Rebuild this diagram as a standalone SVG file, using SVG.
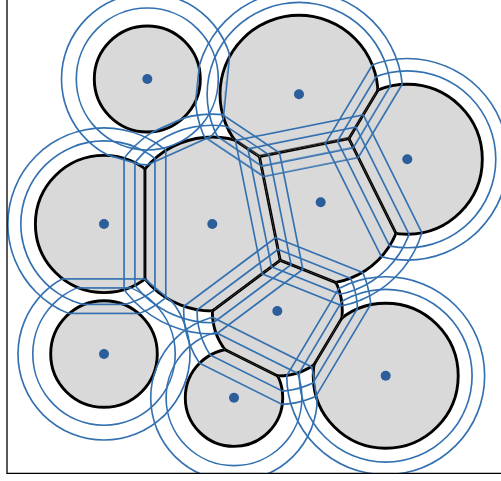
<svg xmlns="http://www.w3.org/2000/svg" width="501" height="481" viewBox="0 0 501 481">
<style>
.cell{fill:#d9d9d9}
.edge{fill:none;stroke:#000;stroke-width:2.9}
.arc{fill:none;stroke:#000;stroke-width:2.9}
.blue{fill:none;stroke:#3270b0;stroke-width:3.3}
.dot{fill:#2b5e9a}
.spine{fill:none;stroke:#000;stroke-width:1.3}
</style>
<defs>
<clipPath id="ax"><rect x="7" y="-20" width="600" height="493.3"/></clipPath>
<g id="kA0" transform="translate(147.3 79)"><rect transform="rotate(5.76)" x="64.98" y="-700" width="1400" height="1400"/><rect transform="rotate(106.63)" x="69.39" y="-700" width="1400" height="1400"/><rect transform="rotate(65.85)" x="64.47" y="-700" width="1400" height="1400"/></g>
<g id="kA1" transform="translate(147.3 79)"><rect transform="rotate(5.76)" x="72.69" y="-700" width="1400" height="1400"/><rect transform="rotate(106.63)" x="77.15" y="-700" width="1400" height="1400"/><rect transform="rotate(65.85)" x="71.86" y="-700" width="1400" height="1400"/></g>
<g id="kA2" transform="translate(147.3 79)"><rect transform="rotate(5.76)" x="80.39" y="-700" width="1400" height="1400"/><rect transform="rotate(106.63)" x="84.92" y="-700" width="1400" height="1400"/><rect transform="rotate(65.85)" x="79.26" y="-700" width="1400" height="1400"/></g>

<g id="kB0" transform="translate(299 94.3)"><rect transform="rotate(185.76)" x="87.49" y="-700" width="1400" height="1400"/><rect transform="rotate(30.97)" x="65.59" y="-700" width="1400" height="1400"/><rect transform="rotate(123.76)" x="73.75" y="-700" width="1400" height="1400"/><rect transform="rotate(78.64)" x="53.26" y="-700" width="1400" height="1400"/></g>
<g id="kB1" transform="translate(299 94.3)"><rect transform="rotate(185.76)" x="95.20" y="-700" width="1400" height="1400"/><rect transform="rotate(30.97)" x="74.89" y="-700" width="1400" height="1400"/><rect transform="rotate(123.76)" x="81.28" y="-700" width="1400" height="1400"/><rect transform="rotate(78.64)" x="63.93" y="-700" width="1400" height="1400"/></g>
<g id="kB2" transform="translate(299 94.3)"><rect transform="rotate(185.76)" x="102.90" y="-700" width="1400" height="1400"/><rect transform="rotate(30.97)" x="84.19" y="-700" width="1400" height="1400"/><rect transform="rotate(123.76)" x="88.81" y="-700" width="1400" height="1400"/><rect transform="rotate(78.64)" x="74.59" y="-700" width="1400" height="1400"/></g>

<g id="kC0" transform="translate(407.3 159.3)"><rect transform="rotate(210.97)" x="60.72" y="-700" width="1400" height="1400"/><rect transform="rotate(153.59)" x="43.09" y="-700" width="1400" height="1400"/></g>
<g id="kC1" transform="translate(407.3 159.3)"><rect transform="rotate(210.97)" x="70.02" y="-700" width="1400" height="1400"/><rect transform="rotate(153.59)" x="55.24" y="-700" width="1400" height="1400"/></g>
<g id="kC2" transform="translate(407.3 159.3)"><rect transform="rotate(210.97)" x="79.32" y="-700" width="1400" height="1400"/><rect transform="rotate(153.59)" x="67.39" y="-700" width="1400" height="1400"/></g>

<g id="kD0" transform="translate(104 224)"><rect transform="rotate(-73.37)" x="81.94" y="-700" width="1400" height="1400"/><rect x="40.93" y="-700" width="1400" height="1400"/><rect transform="rotate(90)" x="72.17" y="-700" width="1400" height="1400"/></g>
<g id="kD1" transform="translate(104 224)"><rect transform="rotate(-73.37)" x="89.70" y="-700" width="1400" height="1400"/><rect x="51.78" y="-700" width="1400" height="1400"/><rect transform="rotate(90)" x="81.21" y="-700" width="1400" height="1400"/></g>
<g id="kD2" transform="translate(104 224)"><rect transform="rotate(-73.37)" x="97.47" y="-700" width="1400" height="1400"/><rect x="62.63" y="-700" width="1400" height="1400"/><rect transform="rotate(90)" x="90.25" y="-700" width="1400" height="1400"/></g>

<g id="kE0" transform="translate(212.3 224)"><rect transform="rotate(245.85)" x="94.43" y="-700" width="1400" height="1400"/><rect transform="rotate(-56.24)" x="82.26" y="-700" width="1400" height="1400"/><rect transform="rotate(180)" x="67.37" y="-700" width="1400" height="1400"/><rect transform="rotate(-11.32)" x="59.47" y="-700" width="1400" height="1400"/><rect transform="rotate(129.8)" x="98.57" y="-700" width="1400" height="1400"/><rect transform="rotate(53.23)" x="69.70" y="-700" width="1400" height="1400"/><rect transform="rotate(82.88)" x="102.37" y="-700" width="1400" height="1400"/></g>
<g id="kE1" transform="translate(212.3 224)"><rect transform="rotate(245.85)" x="101.82" y="-700" width="1400" height="1400"/><rect transform="rotate(-56.24)" x="89.79" y="-700" width="1400" height="1400"/><rect transform="rotate(180)" x="78.22" y="-700" width="1400" height="1400"/><rect transform="rotate(-11.32)" x="70.10" y="-700" width="1400" height="1400"/><rect transform="rotate(129.8)" x="105.51" y="-700" width="1400" height="1400"/><rect transform="rotate(53.23)" x="80.52" y="-700" width="1400" height="1400"/><rect transform="rotate(82.88)" x="109.08" y="-700" width="1400" height="1400"/></g>
<g id="kE2" transform="translate(212.3 224)"><rect transform="rotate(245.85)" x="109.22" y="-700" width="1400" height="1400"/><rect transform="rotate(-56.24)" x="97.32" y="-700" width="1400" height="1400"/><rect transform="rotate(180)" x="89.07" y="-700" width="1400" height="1400"/><rect transform="rotate(-11.32)" x="80.73" y="-700" width="1400" height="1400"/><rect transform="rotate(129.8)" x="112.46" y="-700" width="1400" height="1400"/><rect transform="rotate(53.23)" x="91.34" y="-700" width="1400" height="1400"/><rect transform="rotate(82.88)" x="115.79" y="-700" width="1400" height="1400"/></g>

<g id="kF0" transform="translate(320.7 202.3)"><rect transform="rotate(258.64)" x="56.90" y="-700" width="1400" height="1400"/><rect transform="rotate(-26.41)" x="53.60" y="-700" width="1400" height="1400"/><rect transform="rotate(168.68)" x="51.08" y="-700" width="1400" height="1400"/><rect transform="rotate(111.77)" x="68.85" y="-700" width="1400" height="1400"/><rect transform="rotate(69.45)" x="96.33" y="-700" width="1400" height="1400"/></g>
<g id="kF1" transform="translate(320.7 202.3)"><rect transform="rotate(258.64)" x="67.57" y="-700" width="1400" height="1400"/><rect transform="rotate(-26.41)" x="65.75" y="-700" width="1400" height="1400"/><rect transform="rotate(168.68)" x="61.71" y="-700" width="1400" height="1400"/><rect transform="rotate(111.77)" x="78.89" y="-700" width="1400" height="1400"/><rect transform="rotate(69.45)" x="102.67" y="-700" width="1400" height="1400"/></g>
<g id="kF2" transform="translate(320.7 202.3)"><rect transform="rotate(258.64)" x="78.23" y="-700" width="1400" height="1400"/><rect transform="rotate(-26.41)" x="77.90" y="-700" width="1400" height="1400"/><rect transform="rotate(168.68)" x="72.34" y="-700" width="1400" height="1400"/><rect transform="rotate(111.77)" x="88.93" y="-700" width="1400" height="1400"/><rect transform="rotate(69.45)" x="109.02" y="-700" width="1400" height="1400"/></g>

<g id="kG0" transform="translate(104 354)"><rect transform="rotate(-90)" x="57.83" y="-700" width="1400" height="1400"/><rect transform="rotate(-50.2)" x="70.63" y="-700" width="1400" height="1400"/><rect transform="rotate(18.58)" x="70.28" y="-700" width="1400" height="1400"/></g>
<g id="kG1" transform="translate(104 354)"><rect transform="rotate(-90)" x="66.87" y="-700" width="1400" height="1400"/><rect transform="rotate(-50.2)" x="77.57" y="-700" width="1400" height="1400"/><rect transform="rotate(18.58)" x="78.85" y="-700" width="1400" height="1400"/></g>
<g id="kG2" transform="translate(104 354)"><rect transform="rotate(-90)" x="75.91" y="-700" width="1400" height="1400"/><rect transform="rotate(-50.2)" x="84.52" y="-700" width="1400" height="1400"/><rect transform="rotate(18.58)" x="87.41" y="-700" width="1400" height="1400"/></g>

<g id="kH0" transform="translate(277.3 311)"><rect transform="rotate(233.23)" x="38.90" y="-700" width="1400" height="1400"/><rect transform="rotate(-68.23)" x="48.20" y="-700" width="1400" height="1400"/><rect transform="rotate(116.54)" x="58.02" y="-700" width="1400" height="1400"/><rect transform="rotate(30.83)" x="59.04" y="-700" width="1400" height="1400"/></g>
<g id="kH1" transform="translate(277.3 311)"><rect transform="rotate(233.23)" x="49.72" y="-700" width="1400" height="1400"/><rect transform="rotate(-68.23)" x="58.24" y="-700" width="1400" height="1400"/><rect transform="rotate(116.54)" x="70.14" y="-700" width="1400" height="1400"/><rect transform="rotate(30.83)" x="68.35" y="-700" width="1400" height="1400"/></g>
<g id="kH2" transform="translate(277.3 311)"><rect transform="rotate(233.23)" x="60.54" y="-700" width="1400" height="1400"/><rect transform="rotate(-68.23)" x="68.28" y="-700" width="1400" height="1400"/><rect transform="rotate(116.54)" x="82.27" y="-700" width="1400" height="1400"/><rect transform="rotate(30.83)" x="77.66" y="-700" width="1400" height="1400"/></g>

<g id="kI0" transform="translate(234 397.7)"><rect transform="rotate(262.88)" x="72.68" y="-700" width="1400" height="1400"/><rect transform="rotate(198.58)" x="66.87" y="-700" width="1400" height="1400"/><rect transform="rotate(-63.46)" x="38.89" y="-700" width="1400" height="1400"/><rect transform="rotate(-8.25)" x="67.24" y="-700" width="1400" height="1400"/></g>
<g id="kI1" transform="translate(234 397.7)"><rect transform="rotate(262.88)" x="79.39" y="-700" width="1400" height="1400"/><rect transform="rotate(198.58)" x="75.44" y="-700" width="1400" height="1400"/><rect transform="rotate(-63.46)" x="51.01" y="-700" width="1400" height="1400"/><rect transform="rotate(-8.25)" x="74.91" y="-700" width="1400" height="1400"/></g>
<g id="kI2" transform="translate(234 397.7)"><rect transform="rotate(262.88)" x="86.10" y="-700" width="1400" height="1400"/><rect transform="rotate(198.58)" x="84.00" y="-700" width="1400" height="1400"/><rect transform="rotate(-63.46)" x="63.14" y="-700" width="1400" height="1400"/><rect transform="rotate(-8.25)" x="82.57" y="-700" width="1400" height="1400"/></g>

<g id="kJ0" transform="translate(385.7 375.7)"><rect transform="rotate(249.45)" x="88.87" y="-700" width="1400" height="1400"/><rect transform="rotate(210.83)" x="67.20" y="-700" width="1400" height="1400"/><rect transform="rotate(171.75)" x="86.05" y="-700" width="1400" height="1400"/></g>
<g id="kJ1" transform="translate(385.7 375.7)"><rect transform="rotate(249.45)" x="95.21" y="-700" width="1400" height="1400"/><rect transform="rotate(210.83)" x="76.51" y="-700" width="1400" height="1400"/><rect transform="rotate(171.75)" x="93.72" y="-700" width="1400" height="1400"/></g>
<g id="kJ2" transform="translate(385.7 375.7)"><rect transform="rotate(249.45)" x="101.56" y="-700" width="1400" height="1400"/><rect transform="rotate(210.83)" x="85.82" y="-700" width="1400" height="1400"/><rect transform="rotate(171.75)" x="101.38" y="-700" width="1400" height="1400"/></g>

<mask id="m0A" maskUnits="userSpaceOnUse" x="-100" y="-100" width="800" height="800"><circle cx="147.3" cy="79" r="53" fill="#fff"/><use href="#kA0" fill="#000"/></mask>
<mask id="m1A" maskUnits="userSpaceOnUse" x="-100" y="-100" width="800" height="800"><circle cx="147.3" cy="79" r="71.83" fill="#fff"/><use href="#kA1" fill="#000"/></mask>
<mask id="m2A" maskUnits="userSpaceOnUse" x="-100" y="-100" width="800" height="800"><circle cx="147.3" cy="79" r="86.65" fill="#fff"/><use href="#kA2" fill="#000"/></mask>
<mask id="pA" maskUnits="userSpaceOnUse" x="-100" y="-100" width="800" height="800"><rect x="-100" y="-100" width="800" height="800" fill="#fff"/><use href="#kA0" fill="#000"/></mask>

<mask id="m0B" maskUnits="userSpaceOnUse" x="-100" y="-100" width="800" height="800"><circle cx="299" cy="94.3" r="79" fill="#fff"/><use href="#kB0" fill="#000"/></mask>
<mask id="m1B" maskUnits="userSpaceOnUse" x="-100" y="-100" width="800" height="800"><circle cx="299" cy="94.3" r="92.69" fill="#fff"/><use href="#kB1" fill="#000"/></mask>
<mask id="m2B" maskUnits="userSpaceOnUse" x="-100" y="-100" width="800" height="800"><circle cx="299" cy="94.3" r="104.6" fill="#fff"/><use href="#kB2" fill="#000"/></mask>
<mask id="pB" maskUnits="userSpaceOnUse" x="-100" y="-100" width="800" height="800"><rect x="-100" y="-100" width="800" height="800" fill="#fff"/><use href="#kB0" fill="#000"/></mask>

<mask id="m0C" maskUnits="userSpaceOnUse" x="-100" y="-100" width="800" height="800"><circle cx="407.3" cy="159.3" r="75" fill="#fff"/><use href="#kC0" fill="#000"/></mask>
<mask id="m1C" maskUnits="userSpaceOnUse" x="-100" y="-100" width="800" height="800"><circle cx="407.3" cy="159.3" r="89.3" fill="#fff"/><use href="#kC1" fill="#000"/></mask>
<mask id="m2C" maskUnits="userSpaceOnUse" x="-100" y="-100" width="800" height="800"><circle cx="407.3" cy="159.3" r="101.61" fill="#fff"/><use href="#kC2" fill="#000"/></mask>
<mask id="pC" maskUnits="userSpaceOnUse" x="-100" y="-100" width="800" height="800"><rect x="-100" y="-100" width="800" height="800" fill="#fff"/><use href="#kC0" fill="#000"/></mask>

<mask id="m0D" maskUnits="userSpaceOnUse" x="-100" y="-100" width="800" height="800"><circle cx="104" cy="224" r="68.6" fill="#fff"/><use href="#kD0" fill="#000"/></mask>
<mask id="m1D" maskUnits="userSpaceOnUse" x="-100" y="-100" width="800" height="800"><circle cx="104" cy="224" r="84" fill="#fff"/><use href="#kD1" fill="#000"/></mask>
<mask id="m2D" maskUnits="userSpaceOnUse" x="-100" y="-100" width="800" height="800"><circle cx="104" cy="224" r="96.98" fill="#fff"/><use href="#kD2" fill="#000"/></mask>
<mask id="pD" maskUnits="userSpaceOnUse" x="-100" y="-100" width="800" height="800"><rect x="-100" y="-100" width="800" height="800" fill="#fff"/><use href="#kD0" fill="#000"/></mask>

<mask id="m0E" maskUnits="userSpaceOnUse" x="-100" y="-100" width="800" height="800"><circle cx="212.3" cy="224" r="87" fill="#fff"/><use href="#kE0" fill="#000"/></mask>
<mask id="m1E" maskUnits="userSpaceOnUse" x="-100" y="-100" width="800" height="800"><circle cx="212.3" cy="224" r="99.59" fill="#fff"/><use href="#kE1" fill="#000"/></mask>
<mask id="m2E" maskUnits="userSpaceOnUse" x="-100" y="-100" width="800" height="800"><circle cx="212.3" cy="224" r="110.77" fill="#fff"/><use href="#kE2" fill="#000"/></mask>
<mask id="pE" maskUnits="userSpaceOnUse" x="-100" y="-100" width="800" height="800"><rect x="-100" y="-100" width="800" height="800" fill="#fff"/><use href="#kE0" fill="#000"/></mask>

<mask id="m0F" maskUnits="userSpaceOnUse" x="-100" y="-100" width="800" height="800"><circle cx="320.7" cy="202.3" r="81.5" fill="#fff"/><use href="#kF0" fill="#000"/></mask>
<mask id="m1F" maskUnits="userSpaceOnUse" x="-100" y="-100" width="800" height="800"><circle cx="320.7" cy="202.3" r="94.83" fill="#fff"/><use href="#kF1" fill="#000"/></mask>
<mask id="m2F" maskUnits="userSpaceOnUse" x="-100" y="-100" width="800" height="800"><circle cx="320.7" cy="202.3" r="106.5" fill="#fff"/><use href="#kF2" fill="#000"/></mask>
<mask id="pF" maskUnits="userSpaceOnUse" x="-100" y="-100" width="800" height="800"><rect x="-100" y="-100" width="800" height="800" fill="#fff"/><use href="#kF0" fill="#000"/></mask>

<mask id="m0G" maskUnits="userSpaceOnUse" x="-100" y="-100" width="800" height="800"><circle cx="104" cy="354" r="53.3" fill="#fff"/><use href="#kG0" fill="#000"/></mask>
<mask id="m1G" maskUnits="userSpaceOnUse" x="-100" y="-100" width="800" height="800"><circle cx="104" cy="354" r="72.05" fill="#fff"/><use href="#kG1" fill="#000"/></mask>
<mask id="m2G" maskUnits="userSpaceOnUse" x="-100" y="-100" width="800" height="800"><circle cx="104" cy="354" r="86.84" fill="#fff"/><use href="#kG2" fill="#000"/></mask>
<mask id="pG" maskUnits="userSpaceOnUse" x="-100" y="-100" width="800" height="800"><rect x="-100" y="-100" width="800" height="800" fill="#fff"/><use href="#kG0" fill="#000"/></mask>

<mask id="m0H" maskUnits="userSpaceOnUse" x="-100" y="-100" width="800" height="800"><circle cx="277.3" cy="311" r="65" fill="#fff"/><use href="#kH0" fill="#000"/></mask>
<mask id="m1H" maskUnits="userSpaceOnUse" x="-100" y="-100" width="800" height="800"><circle cx="277.3" cy="311" r="81.09" fill="#fff"/><use href="#kH1" fill="#000"/></mask>
<mask id="m2H" maskUnits="userSpaceOnUse" x="-100" y="-100" width="800" height="800"><circle cx="277.3" cy="311" r="94.47" fill="#fff"/><use href="#kH2" fill="#000"/></mask>
<mask id="pH" maskUnits="userSpaceOnUse" x="-100" y="-100" width="800" height="800"><rect x="-100" y="-100" width="800" height="800" fill="#fff"/><use href="#kH0" fill="#000"/></mask>

<mask id="m0I" maskUnits="userSpaceOnUse" x="-100" y="-100" width="800" height="800"><circle cx="234" cy="397.7" r="48.7" fill="#fff"/><use href="#kI0" fill="#000"/></mask>
<mask id="m1I" maskUnits="userSpaceOnUse" x="-100" y="-100" width="800" height="800"><circle cx="234" cy="397.7" r="68.72" fill="#fff"/><use href="#kI1" fill="#000"/></mask>
<mask id="m2I" maskUnits="userSpaceOnUse" x="-100" y="-100" width="800" height="800"><circle cx="234" cy="397.7" r="84.1" fill="#fff"/><use href="#kI2" fill="#000"/></mask>
<mask id="pI" maskUnits="userSpaceOnUse" x="-100" y="-100" width="800" height="800"><rect x="-100" y="-100" width="800" height="800" fill="#fff"/><use href="#kI0" fill="#000"/></mask>

<mask id="m0J" maskUnits="userSpaceOnUse" x="-100" y="-100" width="800" height="800"><circle cx="385.7" cy="375.7" r="72.5" fill="#fff"/><use href="#kJ0" fill="#000"/></mask>
<mask id="m1J" maskUnits="userSpaceOnUse" x="-100" y="-100" width="800" height="800"><circle cx="385.7" cy="375.7" r="87.21" fill="#fff"/><use href="#kJ1" fill="#000"/></mask>
<mask id="m2J" maskUnits="userSpaceOnUse" x="-100" y="-100" width="800" height="800"><circle cx="385.7" cy="375.7" r="99.78" fill="#fff"/><use href="#kJ2" fill="#000"/></mask>
<mask id="pJ" maskUnits="userSpaceOnUse" x="-100" y="-100" width="800" height="800"><rect x="-100" y="-100" width="800" height="800" fill="#fff"/><use href="#kJ0" fill="#000"/></mask>
</defs>

<rect width="501" height="481" fill="#fff"/>
<g clip-path="url(#ax)">
<g id="cells">
<g id="cellA"><circle class="cell" mask="url(#m0A)" cx="147.3" cy="79" r="53"/></g>
<g id="cellB"><circle class="cell" mask="url(#m0B)" cx="299" cy="94.3" r="79"/></g>
<g id="cellC"><circle class="cell" mask="url(#m0C)" cx="407.3" cy="159.3" r="75"/></g>
<g id="cellD"><circle class="cell" mask="url(#m0D)" cx="104" cy="224" r="68.6"/></g>
<g id="cellE"><circle class="cell" mask="url(#m0E)" cx="212.3" cy="224" r="87"/></g>
<g id="cellF"><circle class="cell" mask="url(#m0F)" cx="320.7" cy="202.3" r="81.5"/></g>
<g id="cellG"><circle class="cell" mask="url(#m0G)" cx="104" cy="354" r="53.3"/></g>
<g id="cellH"><circle class="cell" mask="url(#m0H)" cx="277.3" cy="311" r="65"/></g>
<g id="cellI"><circle class="cell" mask="url(#m0I)" cx="234" cy="397.7" r="48.7"/></g>
<g id="cellJ"><circle class="cell" mask="url(#m0J)" cx="385.7" cy="375.7" r="72.5"/></g>
</g>
<g id="outlines">
<g class="edge" mask="url(#m0A)"><use href="#kA0"/></g><circle class="arc" mask="url(#pA)" cx="147.3" cy="79" r="53"/>
<g class="edge" mask="url(#m0B)"><use href="#kB0"/></g><circle class="arc" mask="url(#pB)" cx="299" cy="94.3" r="79"/>
<g class="edge" mask="url(#m0C)"><use href="#kC0"/></g><circle class="arc" mask="url(#pC)" cx="407.3" cy="159.3" r="75"/>
<g class="edge" mask="url(#m0D)"><use href="#kD0"/></g><circle class="arc" mask="url(#pD)" cx="104" cy="224" r="68.6"/>
<g class="edge" mask="url(#m0E)"><use href="#kE0"/></g><circle class="arc" mask="url(#pE)" cx="212.3" cy="224" r="87"/>
<g class="edge" mask="url(#m0F)"><use href="#kF0"/></g><circle class="arc" mask="url(#pF)" cx="320.7" cy="202.3" r="81.5"/>
<g class="edge" mask="url(#m0G)"><use href="#kG0"/></g><circle class="arc" mask="url(#pG)" cx="104" cy="354" r="53.3"/>
<g class="edge" mask="url(#m0H)"><use href="#kH0"/></g><circle class="arc" mask="url(#pH)" cx="277.3" cy="311" r="65"/>
<g class="edge" mask="url(#m0I)"><use href="#kI0"/></g><circle class="arc" mask="url(#pI)" cx="234" cy="397.7" r="48.7"/>
<g class="edge" mask="url(#m0J)"><use href="#kJ0"/></g><circle class="arc" mask="url(#pJ)" cx="385.7" cy="375.7" r="72.5"/>
</g>
<g id="grown" class="blue">
<g mask="url(#m1A)"><circle cx="147.3" cy="79" r="71.83"/><use href="#kA1"/></g>
<g mask="url(#m2A)"><circle cx="147.3" cy="79" r="86.65"/><use href="#kA2"/></g>
<g mask="url(#m1B)"><circle cx="299" cy="94.3" r="92.69"/><use href="#kB1"/></g>
<g mask="url(#m2B)"><circle cx="299" cy="94.3" r="104.6"/><use href="#kB2"/></g>
<g mask="url(#m1C)"><circle cx="407.3" cy="159.3" r="89.3"/><use href="#kC1"/></g>
<g mask="url(#m2C)"><circle cx="407.3" cy="159.3" r="101.61"/><use href="#kC2"/></g>
<g mask="url(#m1D)"><circle cx="104" cy="224" r="84"/><use href="#kD1"/></g>
<g mask="url(#m2D)"><circle cx="104" cy="224" r="96.98"/><use href="#kD2"/></g>
<g mask="url(#m1E)"><circle cx="212.3" cy="224" r="99.59"/><use href="#kE1"/></g>
<g mask="url(#m2E)"><circle cx="212.3" cy="224" r="110.77"/><use href="#kE2"/></g>
<g mask="url(#m1F)"><circle cx="320.7" cy="202.3" r="94.83"/><use href="#kF1"/></g>
<g mask="url(#m2F)"><circle cx="320.7" cy="202.3" r="106.5"/><use href="#kF2"/></g>
<g mask="url(#m1G)"><circle cx="104" cy="354" r="72.05"/><use href="#kG1"/></g>
<g mask="url(#m2G)"><circle cx="104" cy="354" r="86.84"/><use href="#kG2"/></g>
<g mask="url(#m1H)"><circle cx="277.3" cy="311" r="81.09"/><use href="#kH1"/></g>
<g mask="url(#m2H)"><circle cx="277.3" cy="311" r="94.47"/><use href="#kH2"/></g>
<g mask="url(#m1I)"><circle cx="234" cy="397.7" r="68.72"/><use href="#kI1"/></g>
<g mask="url(#m2I)"><circle cx="234" cy="397.7" r="84.1"/><use href="#kI2"/></g>
<g mask="url(#m1J)"><circle cx="385.7" cy="375.7" r="87.21"/><use href="#kJ1"/></g>
<g mask="url(#m2J)"><circle cx="385.7" cy="375.7" r="99.78"/><use href="#kJ2"/></g>
</g>
<g id="sites" class="dot">
<circle cx="147.3" cy="79" r="5"/><circle cx="299" cy="94.3" r="5"/><circle cx="407.3" cy="159.3" r="5"/><circle cx="104" cy="224" r="5"/><circle cx="212.3" cy="224" r="5"/><circle cx="320.7" cy="202.3" r="5"/><circle cx="104" cy="354" r="5"/><circle cx="277.3" cy="311" r="5"/><circle cx="234" cy="397.7" r="5"/><circle cx="385.7" cy="375.7" r="5"/>
</g>
</g>
<path class="spine" d="M7,0 V473.3 H501"/>
</svg>
